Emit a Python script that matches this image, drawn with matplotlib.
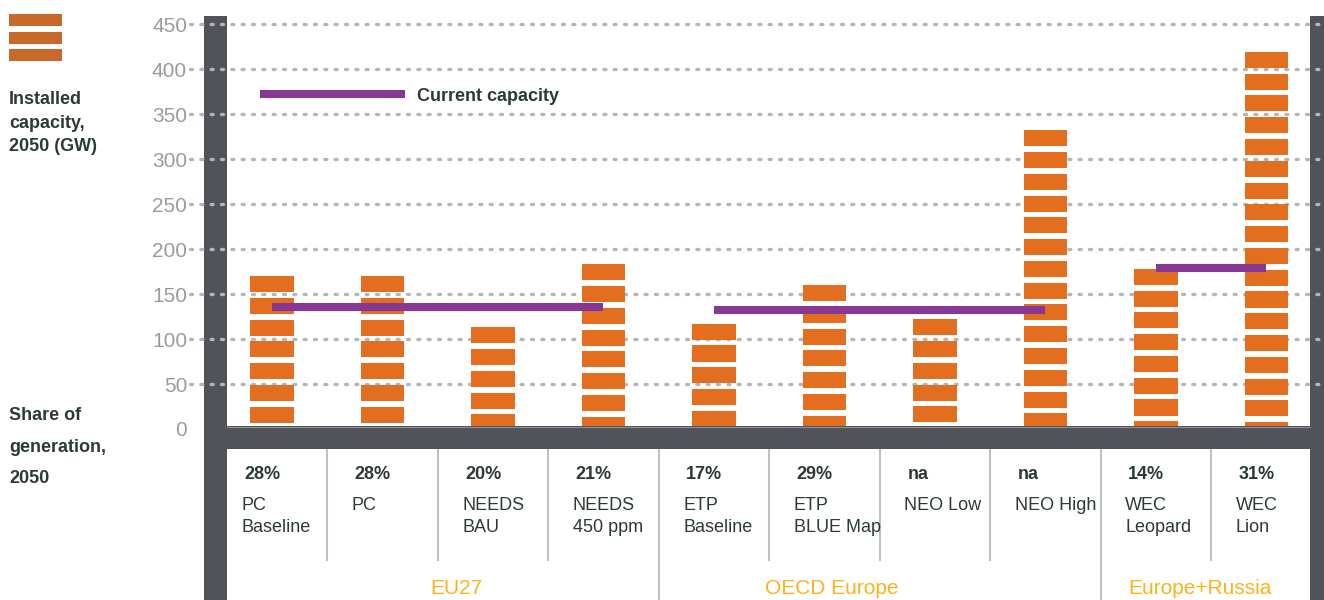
"""Installed capacity in 2050 by scenario, with current capacity per region."""

import matplotlib

matplotlib.use("Agg")
import matplotlib.pyplot as plt
from matplotlib.patches import Rectangle
from matplotlib.transforms import blended_transform_factory

plt.rcParams["font.family"] = ["Liberation Sans", "DejaVu Sans"]

# --- data -------------------------------------------------------------------
SCENARIOS = ["PC\nBaseline", "PC", "NEEDS\nBAU", "NEEDS\n450 ppm",
             "ETP\nBaseline", "ETP\nBLUE Map", "NEO Low", "NEO High",
             "WEC\nLeopard", "WEC\nLion"]
CAPACITY_GW = [170, 170, 113, 183, 117, 160, 122, 332, 178, 419]
SHARE_2050 = ["28%", "28%", "20%", "21%", "17%", "29%", "na", "na", "14%", "31%"]
REGIONS = ["EU27", "OECD Europe", "Europe+Russia"]
REGION_SIZES = [4, 4, 2]
CURRENT_GW = [135.5, 132, 179]
Y_TICKS = [0, 50, 100, 150, 200, 250, 300, 350, 400, 450]

# --- style ------------------------------------------------------------------
ORANGE = "#E36E1F"
ICON_ORANGE = "#C8692B"
PURPLE = "#873895"
FRAME = "#525358"
GRID = "#B3B6BA"
SEP = "#BFC2C4"
TEXT = "#2D3A33"
TICK = "#9B9B9B"
GOLD = "#F9B31B"

BLOCK = 17.8   # height of one brick, GW
GAP = 6.4      # white gap between bricks, GW

W, H = 1324, 600


def fx(px):
    return px / W


def fy(px):
    return 1 - px / H


fig = plt.figure(figsize=(W / 100, H / 100), dpi=100)
ax = fig.add_axes([fx(226), fy(429), fx(1310) - fx(226), fy(16) - fy(429)])
ax.set_xlim(-0.416, 9.394)
ax.set_ylim(0, 458.9)
ax.patch.set_alpha(0)
for spine in ax.spines.values():
    spine.set_visible(False)
ax.set_xticks([])
ax.set_yticks(Y_TICKS)
ax.tick_params(axis="y", length=0, pad=28, labelsize=15, labelcolor=TICK)


def ax_frac(px):
    return (px - 226) / (1310 - 226)


def frame_rect(x0, y0, x1, y1, z):
    ax.add_patch(Rectangle((fx(x0), fy(y1)), fx(x1) - fx(x0), fy(y0) - fy(y1),
                           transform=fig.transFigure, facecolor=FRAME, lw=0,
                           zorder=z, clip_on=False))


# dark frame: side posts below the grid, base band above the bricks
frame_rect(204, 16, 227, 600, 0.5)
frame_rect(1310, 16, 1324, 600, 0.5)
frame_rect(204, 426, 1324, 449, 5)
ax.plot([fx(227), fx(1310)], [fy(426.5), fy(426.5)],
        transform=fig.transFigure, color="#8E8F93", lw=0.8, zorder=5.1,
        clip_on=False)

# dotted grid
for v in Y_TICKS[1:]:
    ax.plot([ax_frac(190), ax_frac(1324)], [v, v],
            transform=ax.get_yaxis_transform(), color=GRID, lw=2.4,
            linestyle=(0, (0.6, 2.5)), dash_capstyle="round", zorder=1,
            clip_on=False)

# bricked bars, stacked down from the top value
for i, value in enumerate(CAPACITY_GW):
    top = value
    while top > 0:
        bottom = max(top - BLOCK, 0)
        ax.bar(i, top - bottom, bottom=bottom, width=0.39, color=ORANGE,
               lw=0, zorder=2)
        top = bottom - GAP

# current capacity per region
start = 0
for size, current in zip(REGION_SIZES, CURRENT_GW):
    ax.plot([start, start + size - 1], [current, current], color=PURPLE,
            lw=5.8, solid_capstyle="butt", zorder=3)
    start += size

# legend
ax.plot([ax_frac(260), ax_frac(405)], [372, 372],
        transform=ax.get_yaxis_transform(), color=PURPLE, lw=5.8,
        solid_capstyle="butt", clip_on=False)
ax.text(ax_frac(417), 365, "Current capacity", transform=ax.get_yaxis_transform(),
        fontsize=13, fontweight="bold", color=TEXT, va="baseline")
for top_px in (14, 32, 49):
    fig.patches.append(Rectangle((fx(9), fy(top_px + 12)), fx(62) - fx(9),
                                 fy(top_px) - fy(top_px + 12),
                                 transform=fig.transFigure,
                                 facecolor=ICON_ORANGE, lw=0))

# left-hand row titles
for line, base in zip(["Installed", "capacity,", "2050 (GW)"], [104, 127.5, 151]):
    fig.text(fx(9), fy(base), line, fontsize=13, fontweight="bold",
             color=TEXT, va="baseline")
for line, base in zip(["Share of", "generation,", "2050"], [420, 451.5, 483]):
    fig.text(fx(9), fy(base), line, fontsize=13, fontweight="bold",
             color=TEXT, va="baseline")

# table under the bars
table = blended_transform_factory(ax.transData, fig.transFigure)
for i, (name, share) in enumerate(zip(SCENARIOS, SHARE_2050)):
    ax.text(i - 0.25, fy(479), share, transform=table, fontsize=13,
            fontweight="bold", color=TEXT, va="baseline")
    for j, line in enumerate(name.split("\n")):
        ax.text(i - 0.28, fy(510 + 22 * j), line, transform=table,
                fontsize=13, color=TEXT, va="baseline")

region_ends = []
total = 0
for size in REGION_SIZES:
    total += size
    region_ends.append(total)
for k in range(1, len(SCENARIOS)):
    bottom_px = 600 if k in region_ends else 560
    ax.plot([k - 0.5, k - 0.5], [fy(449), fy(bottom_px)], transform=table,
            color=SEP, lw=1.5, clip_on=False)

for label, x in zip(REGIONS, [1.67, 5.07, 8.4]):
    ax.text(x, fy(594), label, transform=table, fontsize=15, color=GOLD,
            ha="center", va="baseline")

fig.savefig("out.png", dpi=100)
